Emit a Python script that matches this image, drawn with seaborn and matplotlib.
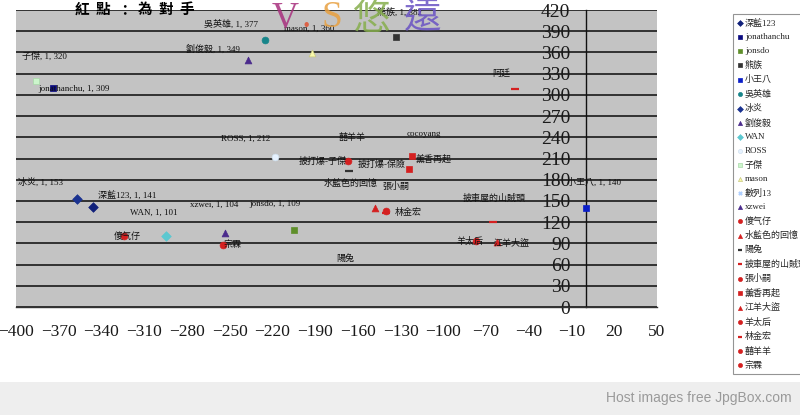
import matplotlib
matplotlib.use("Agg")
import matplotlib.pyplot as plt
from matplotlib.patches import Rectangle
import seaborn as sns
import pandas as pd

# series shown in the legend (order kept from the reference)
names = ["深藍123", "jonathanchu", "jonsdo", "熊族", "小王八", "吳英雄", "冰炎",
         "劉俊毅", "WAN", "ROSS", "子傑", "mason", "數列13", "xzwei", "傻气仔",
         "水藍色的回憶", "陽兔", "披車屋的山賊頭", "張小嗣", "薰香再起", "江羊大盜",
         "羊太后", "林金宏", "囍羊羊", "宗霖"]
series_x = [[-346], [-374], [-205], [-133], [0], [-225], [-357],
            [-237], [-295], [-218], [-386], [-192], [], [-253], [-324],
            [-148], [-166], [-65, -50], [-140], [-122, -124], [-62],
            [-77], [-140], [-167], [-255]]
series_y = [[141], [309], [109], [382], [140], [377], [153],
            [349], [101], [212], [320], [359], [], [104], [100],
            [140], [192], [120, 308], [136], [213, 195], [92],
            [93], [133], [206], [88]]

# marker styles per series
markers = ["D", "s", "s", "s", "s", "o", "D", "^", "D", "o", "s", "^", "x", "^", "o",
           "^", "_", "_", "o", "s", "^", "o", "_", "o", "o"]
colors = ["#10207a", "#0a0a80", "#5f8f2a", "#333333", "#0a1ec8", "#17858a", "#1a3290",
          "#4a2a8c", "#5cc8d0", "#e6f2ff", "#ccf5cc", "#fafaaa", "#b0d0ff", "#4a2a8c",
          "#d42020", "#d42020", "#333333", "#d42020", "#d42020", "#d42020", "#d42020",
          "#d42020", "#d42020", "#d42020", "#d42020"]
pale = {"#e6f2ff": "#cfe0ee", "#ccf5cc": "#a8d8a8", "#fafaaa": "#c8c880"}

# data labels written on the chart
label_texts = ["吳英雄, 1, 377", "劉俊毅, 1, 349", "子傑, 1, 320", "jonathanchu, 1, 309",
               "mason, 1, 360", "熊族, 1, 382", "阿廷", "ROSS, 1, 212", "冰炎, 1, 153",
               "深藍123, 1, 141", "WAN, 1, 101", "xzwei, 1, 104", "jonsdo, 1, 109",
               "小王八, 1, 140", "傻气仔", "宗霖", "囍羊羊", "cocoyang", "披打爆-子傑",
               "披打爆-保險", "薰香再起", "水藍色的回憶", "張小嗣", "林金宏", "陽兔",
               "披車屋的山賊頭", "羊太后", "江羊大盜"]
label_x = [-249, -262, -380, -359, -194, -131, -59, -239, -383, -322, -303, -261, -218,
           6, -322, -248, -164, -114, -185, -143, -107, -165, -133, -125, -169, -64, -81, -52]
label_y = [400, 365, 355, 308, 394, 417, 331, 238, 177, 158, 133, 144, 146,
           177, 100, 88, 240, 245, 206, 201, 209, 175, 171, 133, 69, 153, 93, 90]

x_ticks = list(range(-400, 51, 30))
y_ticks = list(range(0, 421, 30))

sns.set_theme(style="white")
plt.rcParams["font.family"] = ["Liberation Serif", "Noto Sans CJK TC", "DejaVu Sans"]

W, H = 800, 415
fig = plt.figure(figsize=(8, 4.15), dpi=100)
ax = fig.add_axes([16 / W, 1 - 307 / H, (657 - 16) / W, (307 - 10) / H])
ax.set_facecolor("#c3c3c3")

for name, xs, ys, m, c in zip(names, series_x, series_y, markers, colors):
    if not xs:
        ax.scatter([], [], marker=m, color=c, s=14, label=name)
        continue
    df = pd.DataFrame({"x": xs, "y": ys})
    if m in ("_", "x"):
        sns.scatterplot(data=df, x="x", y="y", marker=m, color=c, s=30,
                        linewidth=1.6, ax=ax, label=name, zorder=4)
    else:
        edge = pale.get(c, c)
        sns.scatterplot(data=df, x="x", y="y", marker=m, color=c, s=24,
                        edgecolor=edge, linewidth=0.5, ax=ax, label=name, zorder=4)

for t, lx, ly in zip(label_texts, label_x, label_y):
    ax.text(lx, ly, t, ha="center", va="center", fontsize=6.5, color="#111111",
            family=["Liberation Serif", "Noto Sans CJK TC"], zorder=5, clip_on=False)

ax.set_xlim(-400, 50)
ax.set_ylim(0, 420)
ax.set_xticks(x_ticks)
ax.set_yticks(y_ticks)
ax.set_xlabel("")
ax.set_ylabel("")
ax.yaxis.grid(True, color="#262626", linewidth=1.3)
ax.xaxis.grid(False)
ax.set_axisbelow(True)

for side in ("top", "right"):
    ax.spines[side].set_visible(False)
ax.spines["left"].set_position(("data", 0))
ax.spines["left"].set_color("#111111")
ax.spines["left"].set_linewidth(1.0)
ax.spines["bottom"].set_color("#333333")
ax.spines["bottom"].set_linewidth(1.0)

ax.tick_params(axis="y", direction="in", length=4, width=1, color="#111111",
               pad=11, labelsize=14, labelcolor="#1a1a1a")
ax.tick_params(axis="x", direction="in", length=5, width=0.8, color="#333333",
               pad=12, labelsize=12.5, labelcolor="#1a1a1a")
for lab in ax.get_xticklabels() + ax.get_yticklabels():
    lab.set_family("Liberation Serif")

# legend on the right
handles, labels = ax.get_legend_handles_labels()
if ax.get_legend() is not None:
    ax.get_legend().remove()
leg = fig.legend(handles, labels, loc="upper left",
                 bbox_to_anchor=(733 / W, 1 - 14 / H), frameon=True, fancybox=False,
                 labelspacing=0.6, handlelength=0.5, handletextpad=0.3,
                 borderpad=0.5, borderaxespad=0, markerscale=0.6,
                 prop={"family": ["Liberation Serif", "Noto Sans CJK TC"], "size": 6.5})
leg.get_frame().set_edgecolor("#7a7a7a")
leg.get_frame().set_linewidth(0.8)

# title texts
title_chars = "紅點：為對手"
for i, ch in enumerate(title_chars):
    fig.text((82 + i * 21) / W, 1 - 9 / H, ch, ha="center", va="center",
             fontsize=10.5, fontweight="bold", color="#000000",
             family=["Noto Sans CJK TC"])

vs_parts = [("V", 272, "#a8307e", "Liberation Serif", 27),
            (".", 301, "#e05030", "Liberation Serif", 27),
            ("S", 322, "#e8a040", "Liberation Serif", 27),
            ("悠", 352, "#86ae4c", "Noto Sans CJK TC", 27),
            ("遠", 404, "#6a52c4", "Noto Sans CJK TC", 27)]
for ch, px, c, fam, fs in vs_parts:
    fig.text(px / W, 1 - 18 / H, ch, ha="left", va="center", fontsize=fs,
             color=c, family=[fam], alpha=0.85)

# footer band of the image host
fig.patches.append(Rectangle((0, 0), 1, 33 / H, transform=fig.transFigure,
                             facecolor="#eeeeee", edgecolor="none", zorder=-1))
fig.text(792 / W, 1 - 398 / H, "Host images free JpgBox.com", ha="right", va="center",
         fontsize=10, color="#9a9a9a", family=["Liberation Sans"])

fig.savefig("out.png", dpi=100, facecolor="white")
